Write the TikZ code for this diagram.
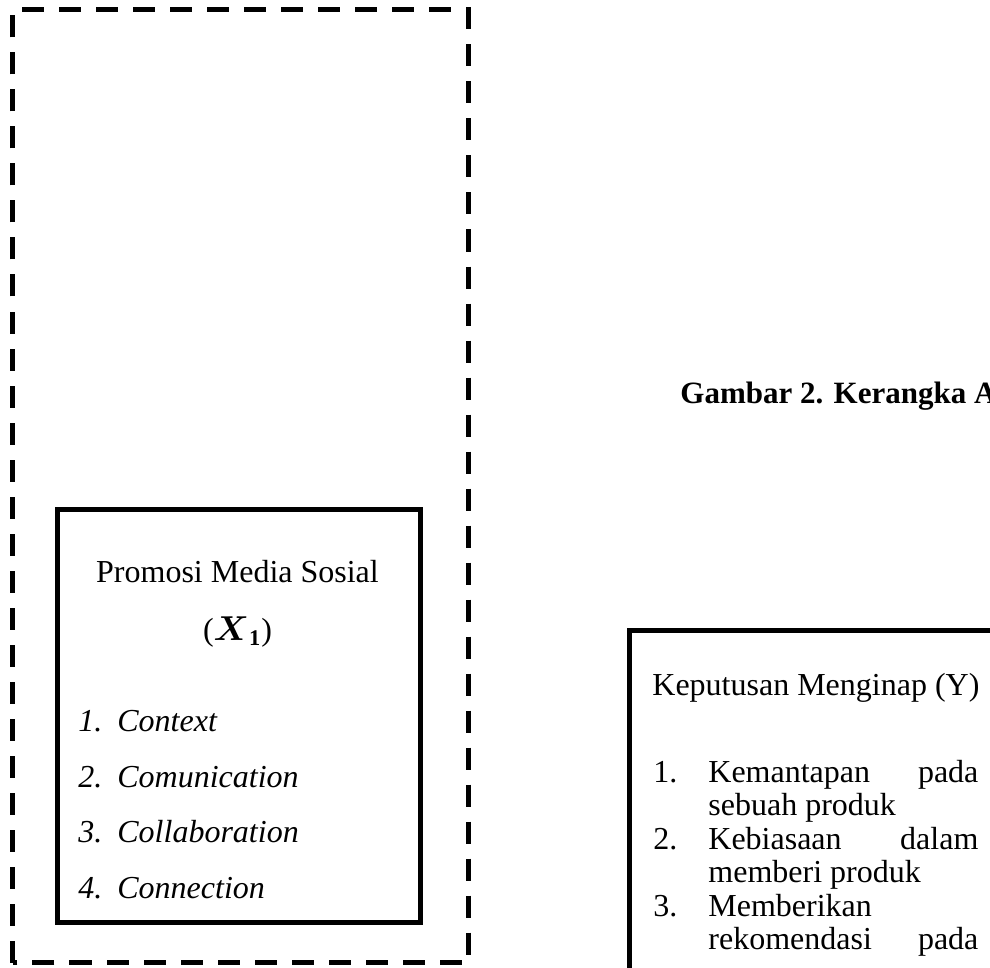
\documentclass[tikz,border=0pt]{standalone}
\usepackage{fontspec}
\usepackage{amsmath}
\setmainfont{Liberation Serif}
\begin{document}
\begin{tikzpicture}[x=0.5pt, y=-0.5pt,
  txt/.style={font=\fontsize{16}{18}\selectfont, inner sep=0pt},
  itm/.style={txt, font=\fontsize{16}{18}\selectfont\itshape},
  frame/.style={line width=2.5pt},
  outer/.style={line width=2.5pt, dash pattern=on 11pt off 7.5pt}]
\useasboundingbox (0,0) rectangle (990,968);
% ---------- left: the dashed group with the X_1 box ----------
\draw[outer] (12.5,962.5) rectangle (468.5,10);
\draw[frame] (57,509) rectangle (420,922);
\node[txt, anchor=base] (promosi) at (237.5,582) {Promosi Media Sosial};
\node[txt, anchor=base] (xvar) at (237.5,640) {($\boldsymbol{X}_{\mathbf{1}}$)};
\foreach \i/\w in {1/Context, 2/Comunication, 3/Collaboration, 4/Connection} {
  \node[itm, anchor=base west] (xnum\i) at (78,{676.5+55.4*\i}) {\i.};
  \node[itm, anchor=base west] (xind\i) at (117,{676.5+55.4*\i}) {\w};
}
% ---------- caption, cut by the page edge ----------
\node[txt, font=\fontsize{15.5}{18}\selectfont\bfseries, anchor=base west] (caption) at (680,403) {Gambar 2. Kerangka A};
% ---------- right: the Y box, cut by the page edge ----------
\draw[frame] (629,630) rectangle (1020,1000);
\node[txt, anchor=base west] (keputusan) at (652,695) {Keputusan Menginap (Y)};
\foreach \n/\t/\s [count=\k] in {1./{Kemantapan pada}/s, /{sebuah produk}/l,
    2./{Kebiasaan dalam}/s, /{memberi produk}/l, 3./{Memberikan}/l, /{rekomendasi pada}/s} {
  \node[txt, anchor=base west] (ynum\k) at (653,{748.5+33.5*\k}) {\n};
  \node[txt, anchor=base west] (yind\k) at (708,{748.5+33.5*\k}) {\makebox[135pt][\s]{\t}};
}
\end{tikzpicture}
\end{document}
